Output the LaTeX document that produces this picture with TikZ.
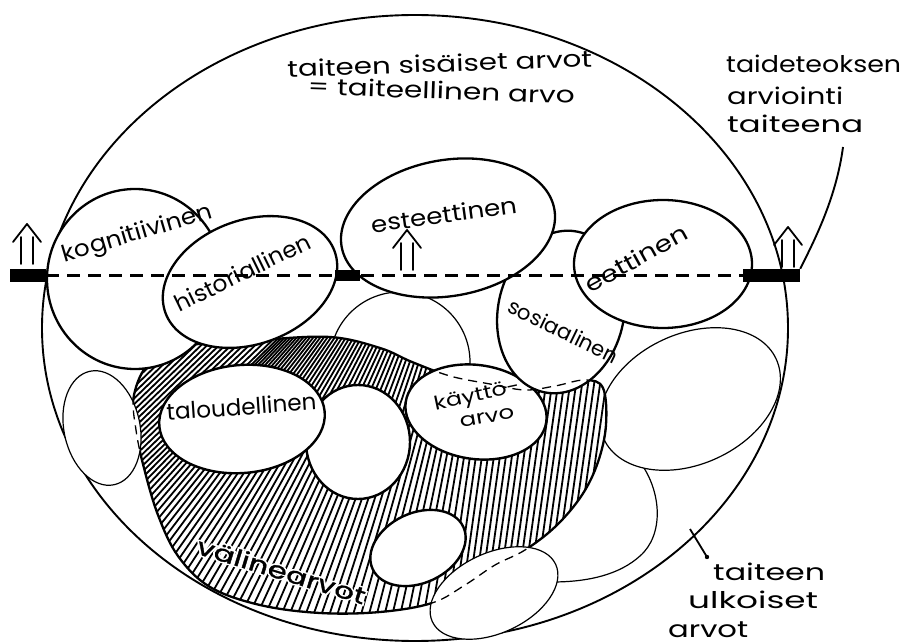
\documentclass[tikz,border=0pt]{standalone}
\usepackage{fontspec}
\usepackage{graphicx}
\setmainfont{Poppins}
\newfontfamily\handbold[FakeBold=1.2]{Poppins}
\newfontfamily\halofont[FakeBold=14]{Poppins}
\usetikzlibrary{shapes.geometric}
\newcommand\fitw[2]{\resizebox{#1}{\height}{#2}}
\newcommand\halotext[1]{\makebox[0pt][l]{\halofont\color{white}#1}\handbold #1}
\begin{document}
\begin{tikzpicture}[x=1pt,y=-1pt,
  outerline/.style={line width=1.9pt},
  bigoval/.style={draw, line width=2.3pt, fill=white},
  faintoval/.style={draw, line width=1.2pt, fill=white},
  faintline/.style={line width=1.2pt},
  hole/.style={draw, line width=2.4pt, fill=white},
  hatchline/.style={line width=1.8pt},
  hidden/.style={line width=1.3pt, dash pattern=on 9pt off 6pt},
  axisdash/.style={line width=2.4pt, dash pattern=on 13pt off 8pt},
  barbox/.style={fill=black, inner sep=0pt, minimum height=13pt},
  lab/.style={inner sep=0pt, font=\fontsize{23}{27}\selectfont},
  smalllab/.style={inner sep=0pt, font=\fontsize{19}{23}\selectfont},
  arrowline/.style={line width=1.8pt, line cap=round, line join=round},
  uparr/.pic={\draw[arrowline] (-6,0) -- (-6,-27) (6,0) -- (6,-27) (-14,-22) -- (0,-40) -- (14,-22);}
]
\useasboundingbox[fill=white] (0,0) rectangle (906,644);

% shapes
\def\Ekog{(135,279) ellipse[x radius=88, y radius=90]}
\def\Ehis{(250,282) ellipse[x radius=90, y radius=62, rotate=20]}
\def\Eest{(448,228) ellipse[x radius=108, y radius=68, rotate=10]}
\def\Eeet{(663,264) ellipse[x radius=89, y radius=64]}
\def\Esos{(561,312) ellipse[x radius=63, y radius=82, rotate=-12]}
\def\Ebeh{(400,362) ellipse[x radius=70, y radius=70]}
\def\Ebig{(690,399) ellipse[x radius=95, y radius=65, rotate=25]}
\def\Esmall{(102,428) ellipse[x radius=38, y radius=58, rotate=12]}
\def\Ebot{(494,593) ellipse[x radius=68, y radius=40, rotate=25]}
\def\Etal{(242,419) ellipse[x radius=83, y radius=54, rotate=5]}
\def\Emid{(358,442) ellipse[x radius=52, y radius=57]}
\def\Ekay{(476,412) ellipse[x radius=71, y radius=47, rotate=-8]}
\def\Ewhite{(418,548) ellipse[x radius=50, y radius=35, rotate=25]}
\def\blob{plot[smooth cycle, tension=0.6] coordinates {(134,395) (150,362) (185,346) (260,340) (330,337) (380,348) (412,362) (450,376) (490,384) (525,390) (555,386) (585,380) (603,388) (606,425) (598,462) (582,495) (556,526) (525,550) (495,565) (465,585) (432,603) (380,612) (320,613) (260,605) (210,587) (178,556) (158,515) (144,468) (136,430)}}

% outer oval
\draw[outerline] (415,328) ellipse[x radius=373, y radius=313];

% background ovals
\draw[faintline] (640,462) .. controls (662,492) and (664,535) .. (640,556) .. controls (620,574) and (590,582) .. (552,582);
\path[faintoval] \Ebig;
\path[faintoval] \Ebeh;

% hatched region
\path[fill=white] \blob;
\begin{scope}
  \clip \blob;
  \foreach \i in {0,...,100} {
    \pgfmathsetmacro\xx{30+6*\i}
    \pgfmathsetmacro\th{44+38*min(1,max(0,(\xx-140)/330))}
    \pgfmathsetmacro\dx{300*cos(\th)}
    \pgfmathsetmacro\dy{300*sin(\th)}
    \draw[hatchline] (\xx-\dx,470+\dy) -- (\xx+\dx,470-\dy);
  }
\end{scope}
\draw[line width=2.3pt] \blob;

% white ovals in the hatched region
\path[hole] \Emid;
\path[hole] \Etal;
\path[hole] \Ekay;
\path[hole] \Ewhite;

% ovals in front
\path[faintoval] \Esmall;
\path[faintoval] \Ebot;
\path[bigoval] \Esos;
\path[bigoval] \Ekog;
\path[bigoval] \Ehis;
\path[bigoval] \Eest;
\path[bigoval] \Eeet;

% hidden outline of the hatched region
\begin{scope}\clip \Ekay; \draw[hidden] \blob; \end{scope}
\begin{scope}\clip \Esos; \draw[hidden] \blob; \end{scope}
\begin{scope}\clip \Ebot; \draw[hidden] \blob; \end{scope}
\begin{scope}\clip \Esmall; \draw[hidden] \blob; \end{scope}

% axis
\node[barbox, minimum width=36pt] (lbar) at (28,275.5) {};
\node[barbox, minimum width=25pt, minimum height=11pt] (mbar) at (347.5,276) {};
\node[barbox, minimum width=57pt] (rbar) at (771.5,275.5) {};
\draw[axisdash] (lbar.east) -- (rbar.west);
\pic at (27,264) {uparr};
\pic at (407,270) {uparr};
\pic at (788,267) {uparr};

% labels in ovals
\node[lab, rotate=16.5, anchor=base] (kog) at (139,240) {\fitw{155pt}{kognitiivinen}};
\node[lab, rotate=26, anchor=base] (his) at (246,280) {\fitw{148pt}{historiallinen}};
\node[lab, rotate=8, anchor=base] (est) at (445,223) {\fitw{147pt}{esteettinen}};
\node[lab, rotate=29, anchor=base] (eet) at (640,266) {\fitw{114pt}{eettinen}};
\node[lab, rotate=-26, anchor=base, font=\fontsize{21}{25}\selectfont] (sos) at (560,338) {\fitw{120pt}{sosiaalinen}};
\node[lab, rotate=4, anchor=base] (tal) at (242,415) {\fitw{150pt}{taloudellinen}};
\node[smalllab, rotate=12, anchor=base] (kay1) at (478,401) {\fitw{87pt}{käyttö-}};
\node[smalllab, rotate=10, anchor=base] (kay2) at (488,423) {\fitw{55pt}{arvo}};
\node[lab, rotate=-17, anchor=base] (val) at (279,579) {\fitw{175pt}{\halotext{välinearvot}}};

% outer labels
\node[lab, rotate=2, anchor=base] (sis1) at (440,72) {\fitw{305pt}{taiteen sisäiset arvot}};
\node[lab, rotate=-2, anchor=base] (sis2) at (441,99) {\fitw{267pt}{= taiteellinen arvo}};
\node[lab, anchor=base west] (arv1) at (726,73) {\fitw{175pt}{taideteoksen}};
\node[lab, anchor=base west] (arv2) at (727,105) {\fitw{116pt}{arviointi}};
\node[lab, anchor=base west] (arv3) at (727,133) {\fitw{136pt}{taiteena}};
\node[lab, anchor=base west] (ulk1) at (713,580) {\fitw{112pt}{taiteen}};
\node[lab, anchor=base west] (ulk2) at (688,608) {\fitw{130pt}{ulkoiset}};
\node[lab, anchor=base west] (ulk3) at (668,637) {\fitw{80pt}{arvot}};

% pointers
\coordinate (ptr) at (843,147);
\draw[outerline] (ptr) .. controls (836,200) and (812,245) .. (rbar.north east);
\coordinate (tka) at (690,529);
\coordinate (tkb) at (707,557);
\draw[line width=1.8pt] (tka) -- (tkb);
\fill (tkb) circle[radius=2.2];
\end{tikzpicture}
\end{document}
